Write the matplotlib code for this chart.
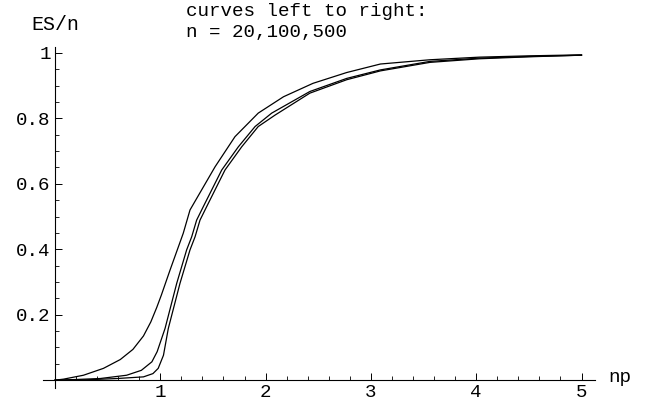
import matplotlib
matplotlib.use("Agg")
import matplotlib.pyplot as plt
from matplotlib.ticker import MultipleLocator, FixedLocator

# Data
np_20 = [0, 0.08, 0.27, 0.46, 0.62, 0.74, 0.84, 0.91, 0.966, 1.01, 1.092, 1.218,
         1.282, 1.345, 1.52, 1.709, 1.93, 2.17, 2.45, 2.77, 3.09, 3.56, 4.03, 4.5, 5.0]
es_20 = [0, 0.003, 0.015, 0.036, 0.063, 0.094, 0.135, 0.178, 0.222, 0.26, 0.336, 0.449,
         0.52, 0.555, 0.652, 0.744, 0.816, 0.866, 0.907, 0.94, 0.966, 0.979, 0.987,
         0.991, 0.994]

np_100 = [0, 0.2, 0.43, 0.68, 0.82, 0.92, 0.97, 1.045, 1.09, 1.156, 1.25, 1.298,
          1.345, 1.408, 1.583, 1.741, 1.90, 2.058, 2.42, 2.77, 3.09, 3.56, 4.03, 4.5, 5.0]
es_100 = [0, 0.002, 0.005, 0.015, 0.03, 0.056, 0.087, 0.158, 0.214, 0.296, 0.398,
          0.438, 0.489, 0.53, 0.642, 0.713, 0.775, 0.816, 0.882, 0.922, 0.948, 0.974,
          0.984, 0.989, 0.993]

np_500 = [0, 0.3, 0.59, 0.84, 0.93, 0.98, 1.03, 1.076, 1.187, 1.282, 1.33, 1.377,
          1.44, 1.614, 1.773, 1.93, 2.09, 2.42, 2.77, 3.09, 3.56, 4.03, 4.5, 5.0]
es_500 = [0, 0.001, 0.005, 0.01, 0.02, 0.036, 0.076, 0.158, 0.296, 0.398, 0.438,
          0.489, 0.53, 0.642, 0.713, 0.775, 0.81, 0.877, 0.918, 0.945, 0.971, 0.982,
          0.988, 0.993]

x_ticks = [1, 2, 3, 4, 5]
x_tick_labels = ["1", "2", "3", "4", "5"]
y_ticks = [0.2, 0.4, 0.6, 0.8, 1.0]
y_tick_labels = ["0.2", "0.4", "0.6", "0.8", "1"]

FONT = ["Liberation Mono", "DejaVu Sans Mono"]
FS = 13.8

W, H = 647, 404
fig = plt.figure(figsize=(W / 100, H / 100), dpi=100)
ax = fig.add_axes([43 / W, 1 - 388 / H, (595 - 43) / W, (388 - 47) / H])

for xs, ys in [(np_20, es_20), (np_100, es_100), (np_500, es_500)]:
    ax.plot(xs, ys, color="black", lw=0.9, solid_joinstyle="round")

ax.set_xlim(-0.114, 5.128)
ax.set_ylim(-0.024, 1.018)

for s in ["top", "right"]:
    ax.spines[s].set_visible(False)
ax.spines["left"].set_position(("data", 0))
ax.spines["bottom"].set_position(("data", 0))
for s in ["left", "bottom"]:
    ax.spines[s].set_linewidth(0.8)

ax.xaxis.set_major_locator(FixedLocator(x_ticks))
ax.set_xticklabels(x_tick_labels)
ax.yaxis.set_major_locator(FixedLocator(y_ticks))
ax.set_yticklabels(y_tick_labels)
ax.xaxis.set_minor_locator(MultipleLocator(0.2))
ax.yaxis.set_minor_locator(MultipleLocator(0.05))

ax.tick_params(which="major", direction="in", length=5, width=0.7, labelsize=FS, pad=3)
ax.tick_params(which="minor", direction="in", length=3, width=0.6)
for lab in ax.get_xticklabels() + ax.get_yticklabels():
    lab.set_family(FONT)

fig.text(31 / W, 1 - 25 / H, "ES/n", family=FONT, fontsize=FS + 0.6, ha="left", va="center")
fig.text(608 / W, 1 - 378 / H, "np", family=FONT, fontsize=FS, ha="left", va="center")
fig.text(186 / W, 1 - 12 / H, "curves left to right:", family=FONT, fontsize=FS,
         ha="left", va="center")
fig.text(186 / W, 1 - 32 / H, "n = 20,100,500", family=FONT, fontsize=FS,
         ha="left", va="center")

fig.savefig("out.png", dpi=100, facecolor="white")
